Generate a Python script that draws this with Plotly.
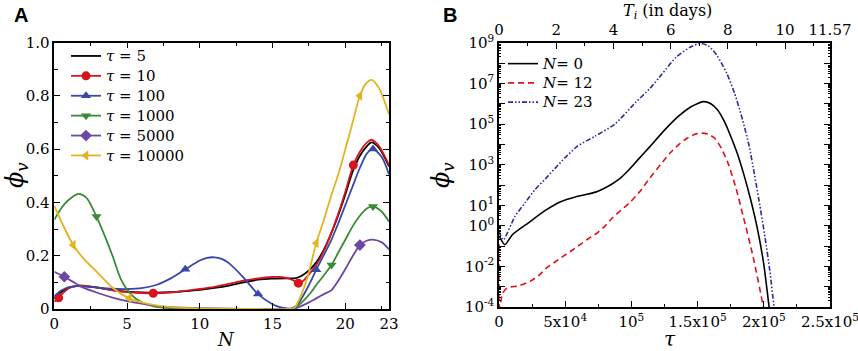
import numpy as np
import plotly.graph_objects as go

# ---------------- Panel A data ----------------
N_t5 = [0, 0.5, 1, 1.5, 2, 3, 4, 5, 6, 7, 8, 9, 10, 11, 12, 13, 14, 15, 16, 16.5, 17, 17.5, 18, 18.5, 19, 19.5, 20, 20.5, 21, 21.5, 21.8, 22.3, 23]
phi_t5 = [0.04, 0.065, 0.08, 0.086, 0.086, 0.08, 0.071, 0.065, 0.062, 0.061, 0.063, 0.067, 0.072, 0.079, 0.088, 0.1, 0.11, 0.114, 0.115, 0.115, 0.125, 0.145, 0.175, 0.22, 0.28, 0.35, 0.43, 0.515, 0.575, 0.612, 0.625, 0.605, 0.535]

N_t10 = [0, 0.3, 0.7, 1, 1.5, 2, 3, 4, 5, 6, 6.8, 8, 9, 10, 11, 12, 13, 14, 15, 15.5, 16, 16.4, 16.77, 17.1, 17.5, 18, 18.5, 19, 19.5, 20, 20.55, 21, 21.5, 21.8, 22.3, 23]
phi_t10 = [0.027, 0.042, 0.065, 0.078, 0.087, 0.088, 0.08, 0.07, 0.063, 0.06, 0.059, 0.062, 0.068, 0.075, 0.083, 0.094, 0.106, 0.115, 0.12, 0.12, 0.116, 0.108, 0.097, 0.105, 0.13, 0.165, 0.215, 0.28, 0.355, 0.44, 0.54, 0.59, 0.625, 0.635, 0.612, 0.54]
Nm_t10 = [0.3, 6.8, 16.77, 20.55]
phim_t10 = [0.042, 0.059, 0.097, 0.54]

N_t100 = [0, 0.5, 1, 1.5, 2, 3, 4, 5, 6, 7, 8, 9, 10, 10.5, 11, 11.5, 12, 13, 14, 15, 15.5, 16, 16.3, 16.7, 17, 17.5, 18, 18.5, 19, 19.5, 20, 20.5, 21, 21.5, 21.9, 22.5, 23]
phi_t100 = [0.048, 0.07, 0.082, 0.086, 0.085, 0.08, 0.076, 0.075, 0.078, 0.09, 0.115, 0.149, 0.182, 0.192, 0.194, 0.188, 0.172, 0.118, 0.056, 0.018, 0.007, 0.002, 0.002, 0.015, 0.04, 0.09, 0.147, 0.2, 0.255, 0.32, 0.39, 0.46, 0.53, 0.585, 0.6, 0.57, 0.505]
Nm_t100 = [9, 14, 18, 21.9]
phim_t100 = [0.149, 0.056, 0.147, 0.6]

N_t1000 = [0, 0.5, 1, 1.65, 2.2, 2.9, 3.5, 4, 4.6, 5.3, 6, 6.5, 7, 8, 9, 10, 12, 14, 16, 16.3, 16.8, 17.2, 17.6, 18, 18.5, 19.05, 19.5, 20, 20.5, 21, 21.5, 21.9, 22.5, 23]
phi_t1000 = [0.335, 0.38, 0.41, 0.432, 0.418, 0.347, 0.27, 0.2, 0.109, 0.053, 0.025, 0.015, 0.008, 0.003, 0.001, 0, 0, 0, 0, 0, 0.015, 0.035, 0.06, 0.09, 0.125, 0.165, 0.21, 0.26, 0.31, 0.35, 0.378, 0.385, 0.365, 0.328]
Nm_t1000 = [2.9, 19.05, 21.9]
phim_t1000 = [0.347, 0.165, 0.385]

N_t5000 = [0, 0.69, 1.5, 2, 3, 4, 5, 6, 7, 8, 10, 12, 14, 16, 16.4, 17, 17.5, 18, 18.5, 19.05, 19.5, 20, 20.5, 21, 21.5, 21.9, 22.5, 23]
phi_t5000 = [0.14, 0.121, 0.095, 0.08, 0.06, 0.043, 0.03, 0.02, 0.012, 0.007, 0.003, 0.001, 0, 0, 0, 0.012, 0.025, 0.04, 0.055, 0.071, 0.105, 0.15, 0.198, 0.24, 0.257, 0.26, 0.25, 0.224]
Nm_t5000 = [0.69, 21.0]
phim_t5000 = [0.121, 0.24]

N_t10000 = [0, 0.6, 1.3, 2, 3, 4, 5.15, 6, 7, 8, 10, 12, 14, 16, 16.5, 17.1, 17.5, 18, 18.5, 19, 19.6, 20, 20.5, 21, 21.4, 21.8, 22.3, 23]
phi_t10000 = [0.387, 0.315, 0.24, 0.19, 0.135, 0.08, 0.04, 0.025, 0.014, 0.007, 0.002, 0.001, 0, 0, 0.005, 0.071, 0.14, 0.247, 0.33, 0.42, 0.52, 0.6, 0.7, 0.8, 0.845, 0.86, 0.83, 0.73]
Nm_t10000 = [1.3, 5.15, 18.0, 21.0]
phim_t10000 = [0.24, 0.04, 0.247, 0.8]

A_xticks = [0, 5, 10, 15, 20, 23]
A_yticks = [0, 0.2, 0.4, 0.6, 0.8, 1.0]
A_yticktext = ["0", "0.2", "0.4", "0.6", "0.8", "1.0"]

# ---------------- Panel B data ----------------
tau_N0 = [0, 4500, 1.0e4, 2.2e4, 3.5e4, 4.7e4, 5.7e4, 6.5e4, 7.3e4, 8.0e4, 9.0e4, 9.8e4, 1.05e5, 1.14e5, 1.25e5, 1.35e5, 1.45e5, 1.543e5, 1.6e5, 1.65e5, 1.7e5, 1.75e5, 1.8e5, 1.85e5, 1.9e5, 1.95e5, 2.0e5, 2.04e5, 2.07e5]
logphi_N0 = [-0.5, -0.94, -0.45, 0.13, 0.75, 1.19, 1.4, 1.52, 1.65, 1.85, 2.25, 2.74, 3.25, 3.89, 4.7, 5.35, 5.85, 6.1, 6.0, 5.7, 5.15, 4.4, 3.55, 2.5, 1.3, -0.1, -1.9, -4.0, -5.5]

tau_N12 = [0, 400, 2500, 6000, 1.5e4, 2.34e4, 3.0e4, 3.6e4, 4.2e4, 4.86e4, 5.5e4, 6.1e4, 6.8e4, 7.4e4, 8.0e4, 8.6e4, 9.2e4, 9.9e4, 1.06e5, 1.14e5, 1.22e5, 1.29e5, 1.36e5, 1.42e5, 1.48e5, 1.53e5, 1.58e5, 1.63e5, 1.68e5, 1.73e5, 1.79e5, 1.845e5, 1.92e5, 1.996e5, 2.03e5]
logphi_N12 = [-0.9, -4.3, -3.35, -3.07, -2.95, -2.74, -2.45, -2.07, -1.8, -1.5, -1.22, -0.94, -0.62, -0.37, -0.02, 0.4, 0.75, 1.15, 1.65, 2.35, 3.0, 3.56, 4.0, 4.3, 4.5, 4.55, 4.5, 4.3, 3.8, 3.07, 1.85, 0.45, -1.55, -4.0, -5.5]

tau_N23 = [0, 3200, 1.2e4, 2.0e4, 2.7e4, 3.5e4, 4.2e4, 5.0e4, 5.9e4, 7.25e4, 8.76e4, 1.03e5, 1.14e5, 1.23e5, 1.34e5, 1.45e5, 1.52e5, 1.58e5, 1.644e5, 1.72e5, 1.78e5, 1.84e5, 1.89e5, 1.93e5, 1.97e5, 2.01e5, 2.045e5, 2.077e5, 2.1e5]
logphi_N23 = [-0.29, -0.7, 0.45, 1.15, 1.76, 2.3, 2.8, 3.35, 3.9, 4.4, 5.0, 6.05, 6.75, 7.45, 8.3, 8.8, 8.97, 8.85, 8.4, 7.5, 6.5, 5.2, 3.9, 2.5, 1.0, -0.6, -2.2, -4.0, -5.5]

SECONDS_PER_TAU = 4.0
B_xticks = [0, 5e4, 1e5, 1.5e5, 2e5, 2.5e5]
B_xticktext = ["0", "5x10<sup>4</sup>", "10<sup>5</sup>", "1.5x10<sup>5</sup>", "2x10<sup>5</sup>", "2.5x10<sup>5</sup>"]
B_topticks = [0, 2, 4, 6, 8, 10, 11.57]
B_topticktext = ["0", "2", "4", "6", "8", "10", "11.57"]
B_ydecades = list(range(-4, 10))
B_ylabeled = [9, 7, 5, 3, 1, 0, -2, -4]

# ---------------- styling ----------------
FONT = "DejaVu Serif"
SANS = "Liberation Sans, Arial, sans-serif"
TS = 15
W, H = 858, 351
colors = {"t5": "#000000", "t10": "#d7141e", "t100": "#3947a6", "t1000": "#3a8a3a",
          "t5000": "#6a48a4", "t10000": "#e3b422"}


def px_x(v):
    return v / W


def px_y(v):
    return 1 - v / H


def big(txt, px):
    return "<span style='font-size:%dpx'>%s</span>" % (px, txt)


fig = go.Figure()

seriesA = [
    ("t5", "5", N_t5, phi_t5, None, None, None),
    ("t10", "10", N_t10, phi_t10, Nm_t10, phim_t10, "circle"),
    ("t100", "100", N_t100, phi_t100, Nm_t100, phim_t100, "triangle-up"),
    ("t1000", "1000", N_t1000, phi_t1000, Nm_t1000, phim_t1000, "triangle-down"),
    ("t5000", "5000", N_t5000, phi_t5000, Nm_t5000, phim_t5000, "diamond"),
    ("t10000", "10000", N_t10000, phi_t10000, Nm_t10000, phim_t10000, "triangle-left"),
]
for key, lab, xs, ys, mx, my, sym in seriesA:
    c = colors[key]
    fig.add_trace(go.Scatter(x=xs, y=ys, mode="lines", line=dict(color=c, width=1.8, shape="spline", smoothing=0.8),
                             showlegend=False, xaxis="x", yaxis="y", hoverinfo="skip"))
    if mx is not None:
        fig.add_trace(go.Scatter(x=mx, y=my, mode="markers", marker=dict(color=c, symbol=sym, size=9, line=dict(width=0)),
                                 showlegend=False, xaxis="x", yaxis="y", hoverinfo="skip"))
    fig.add_trace(go.Scatter(x=[None], y=[None], mode="lines+markers" if sym else "lines",
                             line=dict(color=c, width=1.8),
                             marker=dict(color=c, symbol=sym or "circle", size=9),
                             name=big("<i>τ</i> = " + lab, 15), legend="legend", xaxis="x", yaxis="y"))

seriesB = [
    (" 0", tau_N0, logphi_N0, "#000000", "solid"),
    (" 12", tau_N12, logphi_N12, "#e0101c", "6px,4px"),
    (" 23", tau_N23, logphi_N23, "#2c2ca0", "5px,2px,1.5px,2px,1.5px,2px"),
]
for name, tx, lg, c, dash in seriesB:
    fig.add_trace(go.Scatter(x=tx, y=10 ** np.array(lg), mode="lines",
                             line=dict(color=c, width=1.6, dash=dash, shape="spline", smoothing=0.6),
                             name=big("<i>N</i>=" + name, 15), legend="legend2", xaxis="x2", yaxis="y2",
                             hoverinfo="skip"))

# invisible trace carrying the day scale on the top axis
fig.add_trace(go.Scatter(x=np.array(tau_N0) * SECONDS_PER_TAU / 86400.0, y=10 ** np.array(logphi_N0),
                         mode="lines", line=dict(width=0), opacity=0, showlegend=False,
                         xaxis="x3", yaxis="y2", hoverinfo="skip"))

axis_common = dict(showline=True, linecolor="black", linewidth=1.6, ticks="inside", ticklen=6,
                   tickwidth=1.2, tickcolor="black", showgrid=False, zeroline=False, automargin=False,
                   tickfont=dict(family=FONT, size=TS, color="black"))

minor_log = [m * 10.0 ** k for k in range(-4, 9) for m in range(2, 10)]


def label(text, x, y, size, family=FONT, angle=0, xanchor="center", yanchor="middle"):
    return dict(text=text, x=px_x(x), y=px_y(y), xref="paper", yref="paper", xanchor=xanchor,
                yanchor=yanchor, showarrow=False, textangle=angle,
                font=dict(family=family, size=size, color="black"))


fig.update_layout(
    width=W, height=H, margin=dict(l=0, r=0, t=0, b=0, autoexpand=False),
    plot_bgcolor="white", paper_bgcolor="white",
    font=dict(family=FONT, size=TS, color="black"),
    xaxis=dict(axis_common, domain=[px_x(54.3), px_x(389)], range=[0, 23], anchor="y", mirror="ticks",
               tickmode="array", tickvals=A_xticks,
               minor=dict(tickmode="linear", tick0=0, dtick=2.5, ticklen=3.5, ticks="inside", tickcolor="black")),
    yaxis=dict(axis_common, domain=[px_y(309), px_y(42.5)], range=[0, 1], anchor="x", mirror="ticks",
               tickmode="array", tickvals=A_yticks, ticktext=A_yticktext,
               minor=dict(tickmode="linear", tick0=0, dtick=0.1, ticklen=3.5, ticks="inside", tickcolor="black")),
    xaxis2=dict(axis_common, domain=[px_x(499), px_x(830)], range=[0, 2.5e5], anchor="y2", mirror=False,
                tickmode="array", tickvals=B_xticks, ticktext=B_xticktext, ticklabeloverflow="allow",
                minor=dict(tickmode="linear", tick0=0, dtick=2.5e4, ticklen=3.5, ticks="inside", tickcolor="black")),
    xaxis3=dict(axis_common, range=[0, 11.57], anchor="y2", overlaying="x2", side="top",
                tickmode="array", tickvals=B_topticks, ticktext=B_topticktext, ticklabeloverflow="allow",
                minor=dict(tickmode="linear", tick0=0, dtick=1, ticklen=3.5, ticks="inside", tickcolor="black")),
    yaxis2=dict(axis_common, domain=[px_y(307), px_y(42.7)], type="log", range=[-4, 9], anchor="x2", mirror="ticks",
                tickmode="array", tickvals=[10.0 ** k for k in B_ydecades],
                ticktext=[("10<sup>%d</sup>" % k) if k in B_ylabeled else "" for k in B_ydecades],
                minor=dict(tickmode="array", tickvals=minor_log, ticklen=2.5, ticks="inside", tickcolor="black")),
    legend=dict(x=px_x(66), y=px_y(41), xanchor="left", yanchor="top", bgcolor="rgba(0,0,0,0)",
                font=dict(family=FONT, size=13), tracegroupgap=0, itemwidth=30),
    legend2=dict(x=px_x(503), y=px_y(49), xanchor="left", yanchor="top", bgcolor="rgba(0,0,0,0)",
                 font=dict(family=FONT, size=12.5), tracegroupgap=0, itemwidth=30),
    annotations=[
        label("<b>A</b>", 12, 15, 20, family=SANS, xanchor="left"),
        label("<b>B</b>", 441, 15, 20, family=SANS, xanchor="left"),
        label("<i>N</i>", 226, 339, 18),
        label("<i>τ</i>", 670, 339, 20),
        label("<i>T</i><sub><i>i</i></sub> (in days)", 667, 11, 16),
        label("<i>ϕ</i><sub><i>v</i></sub>", 16, 175, 24, angle=-90),
        label("<i>ϕ</i><sub><i>v</i></sub>", 442, 175, 24, angle=-90),
    ],
)

fig.write_html("out.html", config={"displayModeBar": False},
               post_script="document.body.style.margin='0px';")
